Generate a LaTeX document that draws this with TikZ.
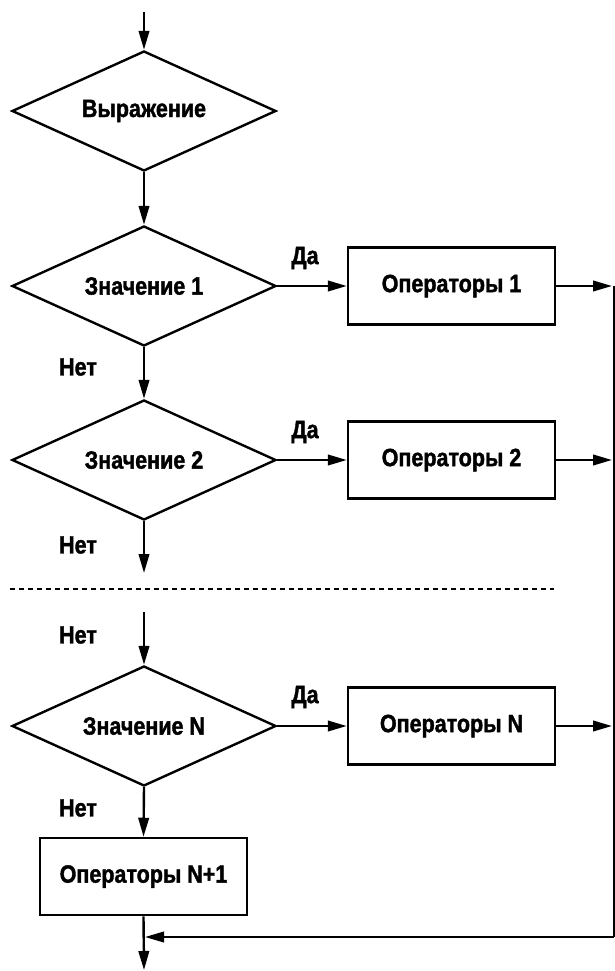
\documentclass[tikz,border=0pt]{standalone}
\usepackage{fontspec}
\setmainfont{Liberation Sans}[FakeStretch=0.86, BoldFeatures={FakeBold=1.5}]
\usetikzlibrary{shapes.geometric,arrows.meta}
\begin{document}
\begin{tikzpicture}[x=1pt,y=-1pt,
  every node/.style={font=\fontsize{25}{27}\selectfont\bfseries},
  dec/.style={diamond, aspect=2.18, draw, line width=2.4pt, minimum width=264pt, minimum height=120pt, inner sep=0pt},
  opbox/.style={rectangle, draw, line width=2.5pt, minimum width=207pt, minimum height=77pt, inner sep=0pt},
  conn/.style={line width=2.4pt},
  arr/.style={conn, -{Triangle[length=19pt,width=10.5pt]}},
  lbl/.style={inner sep=0pt}]
\useasboundingbox (0,0) rectangle (614,971);
% decisions
\node[dec] (d0) at (144,111) {Выражение};
\node[dec] (d1) at (144,286) {Значение 1};
\node[dec] (d2) at (144,460) {Значение 2};
\node[dec] (dn) at (144,726) {Значение N};
% operator boxes
\node[opbox] (b1) at (451.5,286) {Операторы 1};
\node[opbox] (b2) at (451.5,460) {Операторы 2};
\node[opbox] (bn) at (451.5,726) {Операторы N};
\node[opbox] (bn1) at (143.5,876.5) {Операторы N+1};
% labels
\node[lbl] (y1) at (305,258) {Да};
\node[lbl] (y2) at (305,432) {Да};
\node[lbl] (yn) at (305,697) {Да};
\node[lbl] (n1) at (78,367) {Нет};
\node[lbl] (n2) at (78,545) {Нет};
\node[lbl] (n3) at (78,635) {Нет};
\node[lbl] (n4) at (78,808) {Нет};
% free ends
\coordinate (top) at (144,12);
\coordinate (gap1) at (144,573);
\coordinate (gap2) at (144,612);
\coordinate (bottom) at (144,970);
\coordinate (r1) at (612,286);
\coordinate (r2) at (612,460);
\coordinate (rn) at (612,726);
\coordinate (rt) at (614,286);
\coordinate (rb) at (614,937);
\coordinate (j) at (145,937);
\coordinate (dl) at (10,589);
\coordinate (dr) at (554,589);
% connectors
\draw[arr] (top) -- (d0.north);
\draw[arr] (d0.south) -- (d1.north);
\draw[arr] (d1.south) -- (d2.north);
\draw[arr] (d2.south) -- (gap1);
\draw[arr] (gap2) -- (dn.north);
\draw[arr] (dn.south) -- (bn1.north);
\draw[arr] (bn1.south) -- (bottom);
\draw[arr] (d1.east) -- (b1.west);
\draw[arr] (d2.east) -- (b2.west);
\draw[arr] (dn.east) -- (bn.west);
\draw[arr] (b1.east) -- (r1);
\draw[arr] (b2.east) -- (r2);
\draw[arr] (bn.east) -- (rn);
\draw[conn] (rt) -- (rb);
\draw[arr] (rb) -- (j);
\draw[line width=2.2pt, dash pattern=on 5pt off 4pt] (dl) -- (dr);
\end{tikzpicture}
\end{document}
